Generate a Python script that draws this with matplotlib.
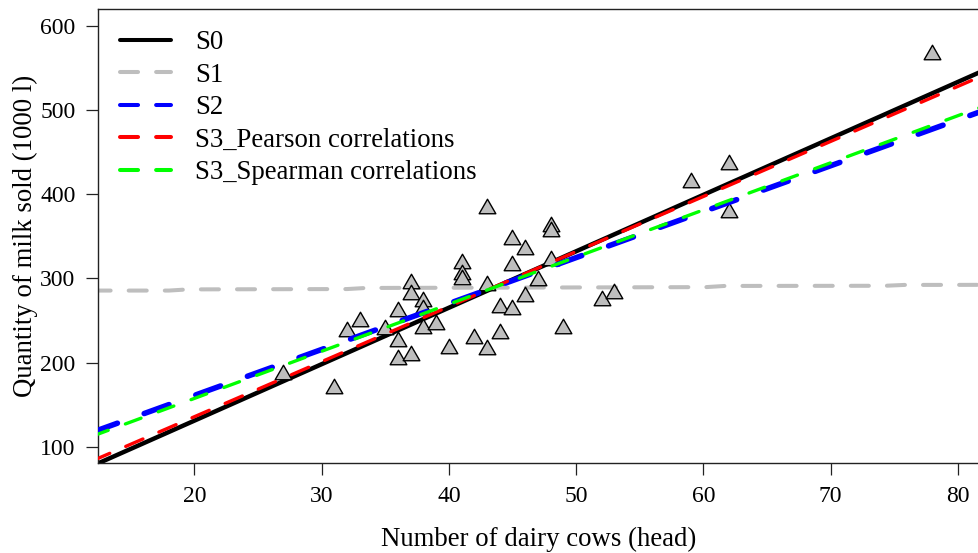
import matplotlib
matplotlib.use("Agg")
import matplotlib.pyplot as plt
from matplotlib.lines import Line2D
from matplotlib.path import Path

plt.rcParams['font.family'] = ['Liberation Serif', 'DejaVu Serif']
plt.rcParams['lines.scale_dashes'] = False

# Observed farms: number of dairy cows vs. milk sold
cows = [27, 31, 32, 33, 35,
        36, 36, 36, 37, 37, 37, 38, 38, 38, 39, 40,
        41, 41, 41, 42, 43, 43, 43, 44, 44, 45, 45, 45,
        46, 46, 47, 48, 48, 48, 49, 52, 53, 59, 62, 62, 78]
milk = [189, 172, 240, 252, 242,
        264, 228, 207, 297, 284, 211, 275, 266, 244, 248, 220,
        321, 307, 302, 231, 386, 294, 218, 268, 237, 349, 318, 266,
        337, 282, 301, 365, 359, 324, 244, 277, 285, 417, 438, 381, 569]

# Fitted lines, evaluated at the ends of the plotted range
line_x = [12, 82]
s0_y = [77.3, 546.7]
s2_y = [117.3, 499.2]
s3_pearson_y = [83.3, 541.1]
s3_spearman_y = [112.6, 504.4]

# S1 curve (nearly flat)
s1_x = [12.0, 18.0, 19.5, 32.0, 33.5, 60.2, 61.7, 74.3, 75.8, 82.0]
s1_y = [285.5, 285.5, 286.9, 287.3, 288.6, 289.6, 291.0, 291.2, 292.2, 292.3]

labels = ["S0", "S1", "S2", "S3_Pearson correlations", "S3_Spearman correlations"]
colors = ["black", "#BEBEBE", "#0000FF", "#FF0000", "#00FF00"]

W, H = 979, 553
fig = plt.figure(figsize=(W / 100, H / 100), dpi=100)
ax = fig.add_axes([98.3 / W, (H - 463.3) / H, 1 - 98.3 / W, (463.3 - 9) / H])

tri = Path([(0, 0.87), (-1, -0.87), (1, -0.87), (0, 0.87)],
           [Path.MOVETO, Path.LINETO, Path.LINETO, Path.CLOSEPOLY])

cap = dict(solid_capstyle='round', dash_capstyle='round')
ax.plot(line_x, s0_y, color=colors[0], lw=3.2, zorder=2, **cap)
ax.plot(s1_x, s1_y, color=colors[1], lw=2.9, dashes=(13, 13), zorder=2, **cap)
ax.scatter(cows, milk, marker=tri, s=12.0 ** 2, facecolor='#BEBEBE',
           edgecolor='black', linewidth=1.0, zorder=3)
ax.plot(line_x, s2_y, color=colors[2], lw=4.0, dashes=(19, 20.5), zorder=4, **cap)
ax.plot(line_x, s3_pearson_y, color=colors[3], lw=2.4, dashes=(13.5, 12.5), zorder=5, **cap)
ax.plot(line_x, s3_spearman_y, color=colors[4], lw=2.4, dashes=(12, 13.2), zorder=6, **cap)

ax.set_xlim(12.45, 81.67)
ax.set_ylim(80.3, 620)
ax.set_xticks([20, 30, 40, 50, 60, 70, 80])
ax.set_yticks([100, 200, 300, 400, 500, 600])
ax.spines['right'].set_visible(False)
for s in ['left', 'bottom', 'top']:
    ax.spines[s].set_linewidth(1.0)
    ax.spines[s].set_color('#222222')
ax.tick_params(axis='both', direction='out', length=8.5, width=0.9,
               labelsize=17, pad=8, color='#222222')

ax.set_xlabel("Number of dairy cows (head)", fontsize=19.3, labelpad=14.5)
ax.set_ylabel("Quantity of milk sold (1000 l)", fontsize=19.3, labelpad=1.5)

handles = []
for i, (lab, c) in enumerate(zip(labels, colors)):
    if i == 0:
        h = Line2D([], [], color=c, lw=2.9, **cap)
    else:
        h = Line2D([], [], color=c, lw=2.9, dashes=(13, 13), **cap)
    handles.append(h)
leg = ax.legend(handles, labels, loc='upper left', frameon=False,
                bbox_to_anchor=(120 / W, (H - 30) / H), bbox_transform=fig.transFigure,
                fontsize=19.3, handlelength=1.9, handletextpad=0.9,
                labelspacing=0.28, borderpad=0, borderaxespad=0)

fig.savefig("out.png", dpi=100)
